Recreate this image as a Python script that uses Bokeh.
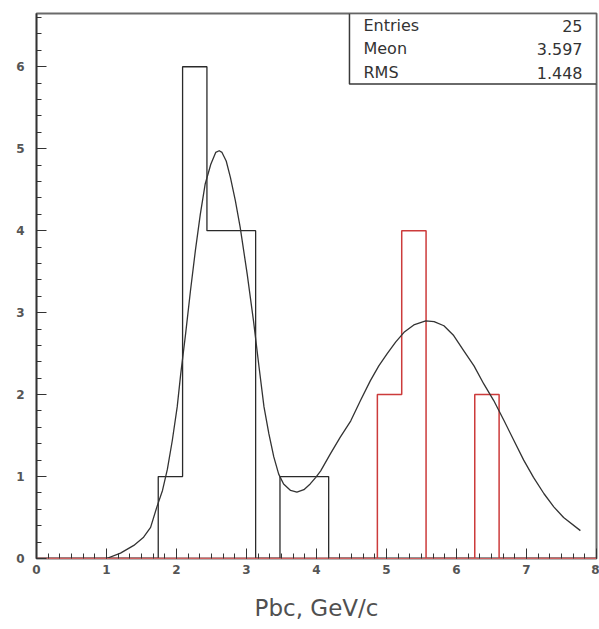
import numpy as np
from bokeh.plotting import figure
from bokeh.models import Range1d, SingleIntervalTicker
from bokeh.core.properties import value
from bokeh.embed import file_html
from bokeh.resources import INLINE

# ---- data ----
bin_lo, bin_hi, nbins = 0.0, 8.0, 23
black_counts = [0, 0, 0, 0, 0, 1, 6, 4, 4, 0, 1, 1, 0, 0, 0, 0, 0, 0, 0, 0, 0, 0, 0]
red_counts = [0, 0, 0, 0, 0, 0, 0, 0, 0, 0, 0, 0, 0, 0, 2, 4, 0, 0, 2, 0, 0, 0, 0]

fit_x = [1.00, 1.20, 1.39, 1.53, 1.63, 1.72, 1.80, 1.87, 1.94, 2.01, 2.06, 2.13,
         2.20, 2.27, 2.34, 2.41, 2.49, 2.56, 2.61, 2.65, 2.71, 2.77, 2.84, 2.91,
         3.01, 3.10, 3.18, 3.25, 3.32, 3.39, 3.46, 3.53, 3.63, 3.72, 3.82, 3.91,
         3.99, 4.06, 4.20, 4.34, 4.49, 4.63, 4.77, 4.89, 5.01, 5.13, 5.25, 5.39,
         5.56, 5.68, 5.82, 5.96, 6.10, 6.25, 6.39, 6.53, 6.68, 6.82, 6.96, 7.10,
         7.25, 7.39, 7.53, 7.77]
fit_y = [0.00, 0.065, 0.16, 0.26, 0.38, 0.63, 0.83, 1.09, 1.44, 1.85, 2.25, 2.74,
         3.27, 3.76, 4.20, 4.57, 4.81, 4.955, 4.975, 4.955, 4.85, 4.65, 4.37, 4.04,
         3.47, 2.90, 2.33, 1.85, 1.52, 1.24, 1.03, 0.91, 0.83, 0.81, 0.84, 0.91,
         0.99, 1.07, 1.28, 1.48, 1.68, 1.93, 2.17, 2.35, 2.50, 2.64, 2.76, 2.85,
         2.90, 2.89, 2.84, 2.72, 2.54, 2.35, 2.13, 1.93, 1.68, 1.44, 1.20, 0.99,
         0.79, 0.63, 0.50, 0.34]

stat_names = ["Entries", "Meon", "RMS"]
stat_values = ["25", "3.597", "1.448"]
x_title = "Pbc, GeV/c"

# ---- figure ----
p = figure(width=599, height=629, output_backend="svg", toolbar_location=None,
           x_range=Range1d(0, 8), y_range=Range1d(0, 6.65))
p.min_border_left = 36
p.min_border_right = 3
p.min_border_top = 13
p.min_border_bottom = 71
p.background_fill_color = "white"
p.border_fill_color = "white"
p.grid.visible = False
p.outline_line_color = "#6a6a6a"
p.outline_line_width = 2

tick_font = "DejaVu Sans"
for ax, interval, nminor in ((p.xaxis[0], 1, 6), (p.yaxis[0], 1, 5)):
    ax.ticker = SingleIntervalTicker(interval=interval, num_minor_ticks=nminor)
    ax.major_tick_in = 10
    ax.major_tick_out = 0
    ax.minor_tick_in = 5
    ax.minor_tick_out = 0
    ax.major_tick_line_color = "#333333"
    ax.minor_tick_line_color = "#333333"
    ax.major_label_text_font = tick_font
    ax.major_label_text_font_size = "12px"
    ax.major_label_text_font_style = "bold"
    ax.major_label_text_color = "#555555"

p.yaxis.axis_line_color = "#333333"
p.yaxis.axis_line_width = 1.5
p.yaxis.major_label_standoff = 12
p.xaxis.axis_line_color = "#d06060"
p.xaxis.axis_line_width = 1
p.xaxis.major_label_standoff = 6
p.xaxis.axis_label = x_title
p.xaxis.axis_label_text_font = "DejaVu Sans"
p.xaxis.axis_label_text_font_size = "23px"
p.xaxis.axis_label_text_font_style = "normal"
p.xaxis.axis_label_text_color = "#505050"
p.xaxis.axis_label_standoff = 18

edges = np.linspace(bin_lo, bin_hi, nbins + 1)
p.step(x=edges, y=black_counts + [0], mode="after", line_color="#2a2a2a", line_width=1.3)
p.step(x=edges, y=red_counts + [0], mode="after", line_color="#cc3b3b", line_width=1.5)
p.line(x=fit_x, y=fit_y, line_color="#333333", line_width=1.3, line_join="round")

# ---- stats box ----
p.quad(left=[4.471], right=[8.0], bottom=[5.79], top=[6.65],
       fill_color="white", line_color="#3a3a3a", line_width=1.5)
row_y = [6.50, 6.22, 5.93]
p.text(x=[4.671] * 3, y=row_y, text=stat_names, text_font=value("DejaVu Sans"),
       text_font_size="16px", text_color="#333333", text_baseline="middle", text_align="left")
p.text(x=[7.80] * 3, y=row_y, text=stat_values, text_font=value("DejaVu Sans"),
       text_font_size="16px", text_color="#333333", text_baseline="middle", text_align="right")

open("out.html", "w").write(file_html(p, INLINE))
